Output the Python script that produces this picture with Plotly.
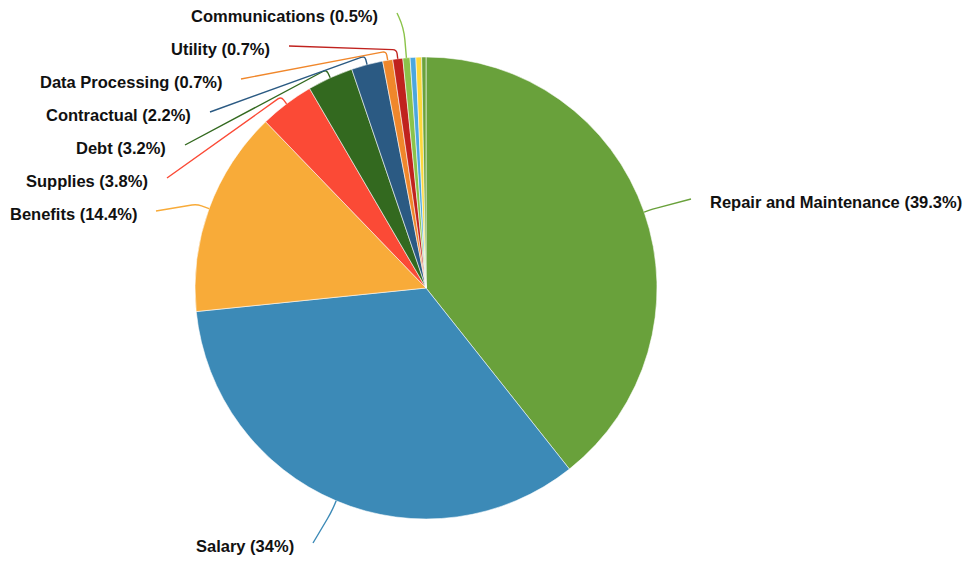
import math
import plotly.graph_objects as go

# Expense categories and their shares (percent of total)
categories = [
    "Repair and Maintenance", "Salary", "Benefits", "Supplies", "Debt",
    "Contractual", "Data Processing", "Utility", "Communications",
    "Travel", "Training", "Other",
]
shares = [39.3, 34, 14.4, 3.8, 3.2, 2.2, 0.7, 0.7, 0.5, 0.4, 0.4, 0.3]
labeled = [True] * 9 + [False] * 3

colors = [
    "#69a13b", "#3c8ab7", "#f8ab39", "#fb4a36", "#33691f", "#2b5a83",
    "#f0872b", "#c0221e", "#8bc34a", "#4ba7de", "#fdd83b", "#6ba23c",
]

# Canvas and pie geometry (pixels)
W, H = 969, 561
CX, CY, R = 426, 288, 231

# Label placement: (side the text sits on, anchor x, centre y)
# side "L": text to the left of its line, anchored at its right edge
# side "R": text to the right of its line, anchored at its left edge
label_place = {
    "Repair and Maintenance": ("R", 708, 202),
    "Salary": ("L", 296, 546),
    "Benefits": ("L", 139, 214),
    "Supplies": ("L", 150, 181),
    "Debt": ("L", 168, 148),
    "Contractual": ("L", 193, 115),
    "Data Processing": ("L", 224, 82),
    "Utility": ("L", 272, 49),
    "Communications": ("L", 380, 16),
}
# radial stub length and corner rounding of each leader line
elbow = {"Communications": (30, 12), "Benefits": (13, 5), "Salary": (12, 8)}
LINE_GAP = 17

fig = go.Figure()

fig.add_trace(go.Pie(
    labels=categories,
    values=shares,
    sort=False,
    direction="clockwise",
    rotation=0,
    marker=dict(colors=colors, line=dict(color="rgba(255,255,255,0.7)", width=0.8)),
    textinfo="none",
    hoverinfo="label+percent",
    showlegend=False,
    domain=dict(
        x=[(CX - R) / W, (CX + R) / W],
        y=[1 - (CY + R) / H, 1 - (CY - R) / H],
    ),
))

# invisible pixel-space axes for the labels and leader lines
fig.add_trace(go.Scatter(x=[0, W], y=[0, H], mode="markers",
                         marker=dict(opacity=0), hoverinfo="skip",
                         showlegend=False))

total = sum(shares)
shapes = []
annotations = []
cum = 0.0
for name, v, col, show in zip(categories, shares, colors, labeled):
    mid = (cum + v / 2) / total
    cum += v
    if not show:
        continue
    ang = 2 * math.pi * mid
    ux, uy = math.sin(ang), -math.cos(ang)
    ox, oy = CX + R * ux, CY + R * uy
    side, ax, ay = label_place[name]
    stub, rc = elbow.get(name, (9, 4))
    px, py = ox + stub * ux, oy + stub * uy
    if side == "L":
        ex = ax + LINE_GAP
    else:
        ex = ax - LINE_GAP
    ey = ay - 3
    dx, dy = ex - px, ey - py
    dl = math.hypot(dx, dy)
    dx, dy = dx / dl, dy / dl
    a_x, a_y = px - rc * ux, py - rc * uy
    b_x, b_y = px + rc * dx, py + rc * dy
    path = (f"M {ox:.2f},{oy:.2f} L {a_x:.2f},{a_y:.2f} "
            f"Q {px:.2f},{py:.2f} {b_x:.2f},{b_y:.2f} L {ex:.2f},{ey:.2f}")
    shapes.append(dict(type="path", path=path, xref="x", yref="y",
                       line=dict(color=col, width=1.4)))
    annotations.append(dict(
        x=ax, y=ay, xref="x", yref="y",
        text=f"{name} ({v:g}%)",
        showarrow=False,
        xanchor="right" if side == "L" else "left",
        yanchor="middle",
        font=dict(family="Liberation Sans, Arial, sans-serif", size=16.5,
                  color="#111111", weight="bold"),
    ))

fig.update_layout(
    width=W, height=H,
    margin=dict(l=0, r=0, t=0, b=0),
    paper_bgcolor="white",
    plot_bgcolor="rgba(0,0,0,0)",
    xaxis=dict(range=[0, W], visible=False, fixedrange=True),
    yaxis=dict(range=[H, 0], visible=False, fixedrange=True),
    shapes=shapes,
    annotations=annotations,
)

fig.write_html("out.html")
